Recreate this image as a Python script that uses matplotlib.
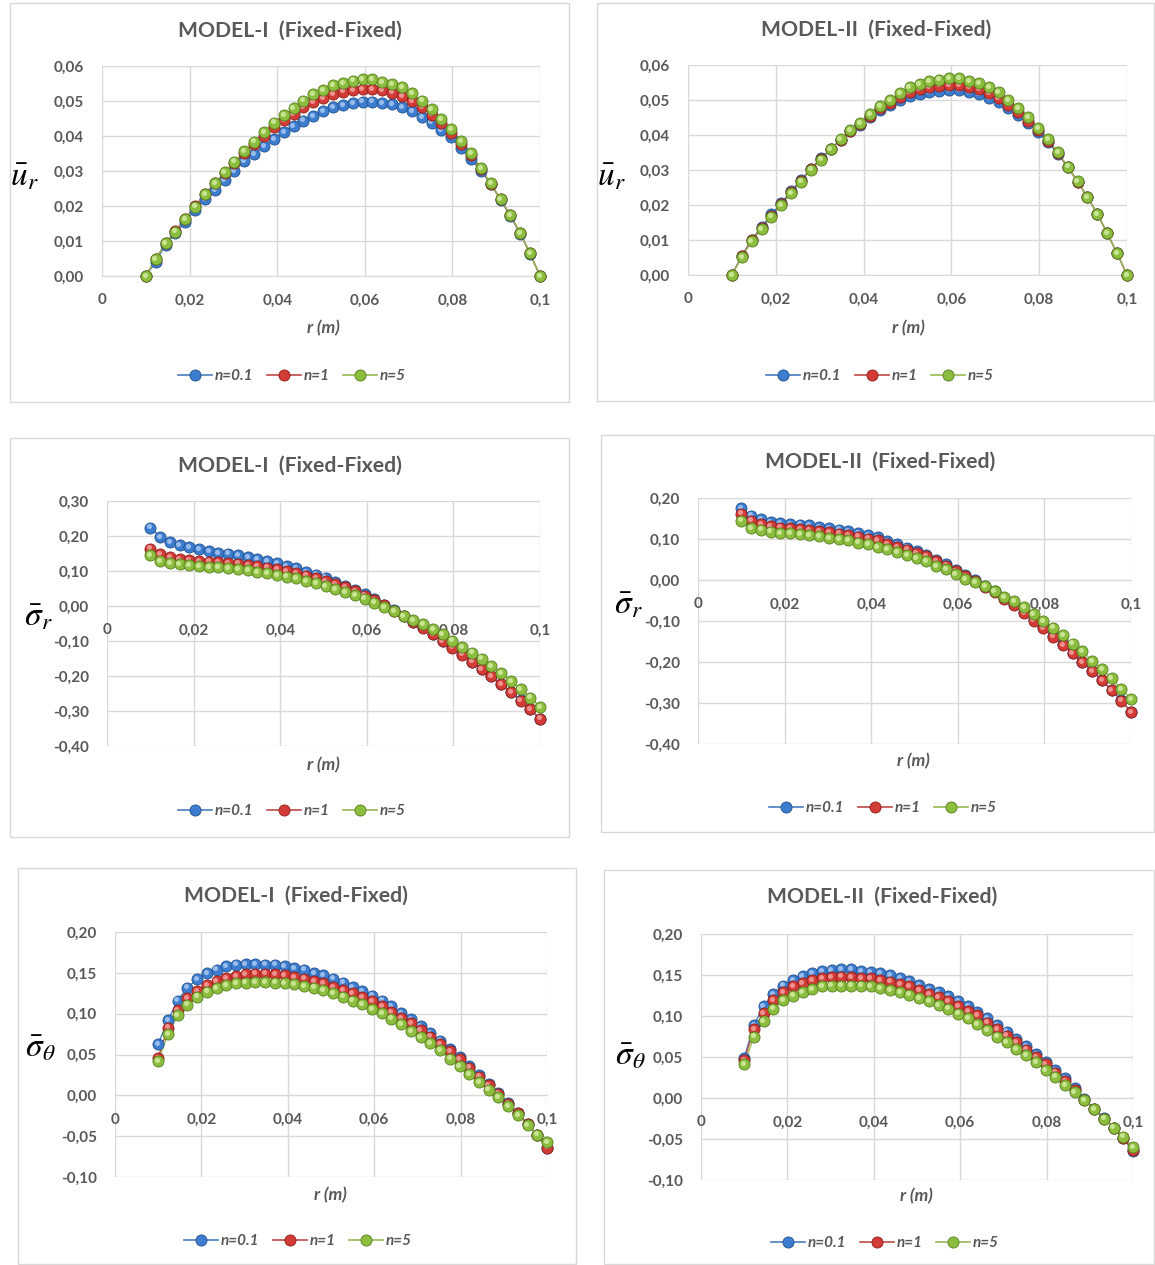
import matplotlib
matplotlib.use('Agg')
import matplotlib.pyplot as plt
from matplotlib.lines import Line2D
from matplotlib.patches import Rectangle
from matplotlib.ticker import FixedLocator, FixedFormatter
import matplotlib.transforms as mtransforms

plt.rcParams['font.family'] = ['Lato', 'DejaVu Sans']
plt.rcParams['mathtext.fontset'] = 'stix'

# ---------------- data ----------------
R = [0.01, 0.01225, 0.0145, 0.01675, 0.019, 0.02125, 0.0235, 0.02575, 0.028, 0.03025,
     0.0325, 0.03475, 0.037, 0.03925, 0.0415, 0.04375, 0.046, 0.04825, 0.0505, 0.05275,
     0.055, 0.05725, 0.0595, 0.06175, 0.064, 0.06625, 0.0685, 0.07075, 0.073, 0.07525,
     0.0775, 0.07975, 0.082, 0.08425, 0.0865, 0.08875, 0.091, 0.09325, 0.0955, 0.09775, 0.1]

SERIES_LABELS = ['n=0.1', 'n=1', 'n=5']
XTICKS = [0, 0.02, 0.04, 0.06, 0.08, 0.1]
XTICK_LABELS = ['0', '0,02', '0,04', '0,06', '0,08', '0,1']

# Model I, u_r
U1_BLUE = [0, 0.0041, 0.0089, 0.0122, 0.0155, 0.0190, 0.0219, 0.0246, 0.0274, 0.0300,
           0.0329, 0.0349, 0.0371, 0.0391, 0.0412, 0.0429, 0.0444, 0.0457, 0.0471, 0.0482,
           0.0488, 0.0495, 0.0498, 0.0498, 0.0493, 0.0490, 0.0482, 0.0470, 0.0455, 0.0438,
           0.0417, 0.0396, 0.0365, 0.0334, 0.0301, 0.0263, 0.0217, 0.0171, 0.0120, 0.0063, 0]
U1_RED = [0, 0.0049, 0.0094, 0.0129, 0.0164, 0.0200, 0.0234, 0.0265, 0.0295, 0.0324,
          0.0352, 0.0377, 0.0401, 0.0426, 0.0446, 0.0463, 0.0482, 0.0497, 0.0509, 0.0520,
          0.0527, 0.0532, 0.0534, 0.0534, 0.0530, 0.0524, 0.0514, 0.0500, 0.0482, 0.0461,
          0.0436, 0.0409, 0.0378, 0.0345, 0.0305, 0.0264, 0.0219, 0.0174, 0.0122, 0.0065, 0]
U1_GREEN = [0, 0.0048, 0.0093, 0.0127, 0.0162, 0.0198, 0.0233, 0.0265, 0.0296, 0.0327,
            0.0357, 0.0384, 0.0410, 0.0438, 0.0460, 0.0479, 0.0501, 0.0519, 0.0531, 0.0546,
            0.0552, 0.0558, 0.0562, 0.0562, 0.0555, 0.0549, 0.0539, 0.0522, 0.0501, 0.0476,
            0.0449, 0.0419, 0.0386, 0.0350, 0.0308, 0.0265, 0.0219, 0.0174, 0.0122, 0.0065, 0]

# Model II, u_r
U2_BLUE = [0, 0.0055, 0.0101, 0.0137, 0.0173, 0.0206, 0.0240, 0.0272, 0.0304, 0.0333,
           0.0360, 0.0386, 0.0410, 0.0430, 0.0451, 0.0471, 0.0485, 0.0500, 0.0512, 0.0518,
           0.0523, 0.0527, 0.0528, 0.0528, 0.0522, 0.0517, 0.0506, 0.0493, 0.0476, 0.0457,
           0.0434, 0.0409, 0.0380, 0.0346, 0.0308, 0.0267, 0.0222, 0.0175, 0.0119, 0.0062, 0]
U2_RED = [0, 0.0053, 0.0099, 0.0134, 0.0170, 0.0203, 0.0237, 0.0270, 0.0303, 0.0332,
          0.0360, 0.0387, 0.0411, 0.0432, 0.0455, 0.0477, 0.0492, 0.0509, 0.0523, 0.0530,
          0.0537, 0.0541, 0.0543, 0.0543, 0.0536, 0.0531, 0.0519, 0.0506, 0.0487, 0.0466,
          0.0441, 0.0413, 0.0383, 0.0348, 0.0309, 0.0267, 0.0222, 0.0175, 0.0119, 0.0062, 0]
U2_GREEN = [0, 0.0051, 0.0096, 0.0131, 0.0167, 0.0199, 0.0234, 0.0267, 0.0301, 0.0330,
            0.0360, 0.0388, 0.0413, 0.0435, 0.0459, 0.0483, 0.0500, 0.0519, 0.0536, 0.0545,
            0.0553, 0.0558, 0.0562, 0.0562, 0.0553, 0.0548, 0.0536, 0.0522, 0.0500, 0.0477,
            0.0450, 0.0419, 0.0388, 0.0350, 0.0310, 0.0268, 0.0223, 0.0175, 0.0119, 0.0062, 0]

# Model I, sigma_r
S1_BLUE = [0.224, 0.198, 0.183, 0.174, 0.169, 0.162, 0.157, 0.152, 0.150, 0.145,
           0.140, 0.135, 0.129, 0.122, 0.114, 0.108, 0.097, 0.090, 0.081, 0.069,
           0.058, 0.047, 0.035, 0.020, 0.004, -0.012, -0.028, -0.045, -0.061, -0.079,
           -0.100, -0.117, -0.136, -0.159, -0.179, -0.200, -0.222, -0.246, -0.269, -0.295, -0.324]
S1_RED = [0.164, 0.148, 0.139, 0.134, 0.131, 0.129, 0.127, 0.125, 0.123, 0.121,
          0.118, 0.114, 0.110, 0.105, 0.100, 0.094, 0.087, 0.080, 0.072, 0.063,
          0.053, 0.042, 0.030, 0.016, 0.002, -0.013, -0.029, -0.046, -0.063, -0.081,
          -0.100, -0.119, -0.139, -0.159, -0.180, -0.201, -0.223, -0.246, -0.270, -0.295, -0.322]
S1_GREEN = [0.145, 0.129, 0.122, 0.120, 0.117, 0.114, 0.112, 0.111, 0.108, 0.105,
            0.102, 0.098, 0.093, 0.089, 0.084, 0.079, 0.071, 0.065, 0.057, 0.048,
            0.040, 0.031, 0.021, 0.010, -0.003, -0.015, -0.028, -0.040, -0.052, -0.066,
            -0.081, -0.099, -0.117, -0.133, -0.150, -0.171, -0.192, -0.215, -0.238, -0.262, -0.288]

# Model II, sigma_r
S2_BLUE = [0.176, 0.157, 0.148, 0.142, 0.139, 0.137, 0.135, 0.133, 0.130, 0.126,
           0.123, 0.119, 0.115, 0.109, 0.105, 0.095, 0.087, 0.079, 0.071, 0.062,
           0.050, 0.038, 0.024, 0.011, 0.000, -0.015, -0.027, -0.043, -0.059, -0.078,
           -0.096, -0.114, -0.136, -0.157, -0.177, -0.200, -0.221, -0.243, -0.268, -0.293, -0.323]
S2_RED = [0.162, 0.145, 0.137, 0.131, 0.128, 0.126, 0.124, 0.122, 0.119, 0.116,
          0.113, 0.110, 0.106, 0.101, 0.097, 0.088, 0.081, 0.074, 0.066, 0.058,
          0.047, 0.035, 0.022, 0.009, -0.002, -0.017, -0.030, -0.046, -0.062, -0.081,
          -0.099, -0.117, -0.138, -0.159, -0.179, -0.201, -0.222, -0.244, -0.269, -0.294, -0.322]
S2_GREEN = [0.145, 0.127, 0.123, 0.118, 0.115, 0.114, 0.111, 0.109, 0.107, 0.103,
            0.099, 0.097, 0.091, 0.087, 0.081, 0.075, 0.069, 0.061, 0.054, 0.046,
            0.034, 0.026, 0.014, 0.003, -0.005, -0.015, -0.027, -0.041, -0.051, -0.067,
            -0.084, -0.100, -0.116, -0.134, -0.155, -0.174, -0.197, -0.217, -0.240, -0.266, -0.290]

# Model I, sigma_theta
T1_BLUE = [0.063, 0.092, 0.116, 0.132, 0.142, 0.150, 0.154, 0.158, 0.160, 0.161,
           0.161, 0.160, 0.160, 0.158, 0.156, 0.154, 0.150, 0.147, 0.143, 0.138,
           0.133, 0.128, 0.122, 0.116, 0.109, 0.101, 0.093, 0.085, 0.076, 0.067,
           0.057, 0.047, 0.036, 0.025, 0.014, 0.003, -0.009, -0.022, -0.035, -0.049, -0.065]
T1_RED = [0.046, 0.083, 0.104, 0.119, 0.128, 0.135, 0.140, 0.144, 0.146, 0.148,
          0.149, 0.149, 0.148, 0.147, 0.145, 0.143, 0.140, 0.137, 0.133, 0.129,
          0.125, 0.120, 0.115, 0.109, 0.102, 0.095, 0.088, 0.080, 0.072, 0.063,
          0.054, 0.044, 0.034, 0.023, 0.013, 0.002, -0.010, -0.022, -0.035, -0.049, -0.064]
T1_GREEN = [0.042, 0.075, 0.098, 0.111, 0.121, 0.127, 0.131, 0.135, 0.137, 0.138,
            0.139, 0.139, 0.138, 0.137, 0.136, 0.134, 0.132, 0.129, 0.125, 0.121,
            0.116, 0.112, 0.106, 0.101, 0.094, 0.087, 0.079, 0.071, 0.064, 0.055,
            0.045, 0.036, 0.026, 0.016, 0.007, -0.002, -0.013, -0.024, -0.036, -0.048, -0.057]

# Model II, sigma_theta
T2_BLUE = [0.049, 0.089, 0.112, 0.127, 0.137, 0.144, 0.149, 0.152, 0.155, 0.156,
           0.157, 0.157, 0.155, 0.154, 0.152, 0.150, 0.146, 0.143, 0.138, 0.133,
           0.129, 0.124, 0.118, 0.112, 0.105, 0.097, 0.089, 0.081, 0.072, 0.063,
           0.054, 0.044, 0.034, 0.024, 0.012, -0.001, -0.013, -0.024, -0.036, -0.049, -0.065]
T2_RED = [0.046, 0.084, 0.104, 0.119, 0.129, 0.136, 0.140, 0.144, 0.146, 0.147,
          0.148, 0.147, 0.146, 0.146, 0.144, 0.142, 0.139, 0.136, 0.132, 0.127,
          0.123, 0.118, 0.112, 0.106, 0.101, 0.092, 0.084, 0.076, 0.068, 0.059,
          0.050, 0.041, 0.031, 0.021, 0.010, -0.002, -0.014, -0.025, -0.036, -0.049, -0.064]
T2_GREEN = [0.041, 0.075, 0.094, 0.109, 0.119, 0.125, 0.129, 0.133, 0.136, 0.137,
            0.137, 0.137, 0.137, 0.136, 0.134, 0.132, 0.129, 0.126, 0.122, 0.118,
            0.113, 0.109, 0.103, 0.097, 0.090, 0.083, 0.075, 0.068, 0.060, 0.052,
            0.044, 0.034, 0.026, 0.016, 0.007, -0.003, -0.014, -0.025, -0.036, -0.047, -0.060]

# ---------------- styling ----------------
W, H = 1155, 1265
GRAY = '#595959'
GRID = '#d9d9d9'
STYLES = [  # line, base, dark edge, highlight
    ('#4a7ebb', '#3c7dd0', '#24528f', '#a9c8f0'),
    ('#be4b48', '#d33b36', '#8e1f1c', '#f2a3a0'),
    ('#98b954', '#8cbd3f', '#56801f', '#d6eca6'),
]

fig = plt.figure(figsize=(W / 100, H / 100), dpi=100)


def fig_rect(x0, y0, x1, y1):
    return [x0 / W, 1 - y1 / H, (x1 - x0) / W, (y1 - y0) / H]


def fmt_y(v):
    s = f"{v:.2f}".replace('.', ',')
    if s.startswith('-0,00'):
        s = '0,00'
    return s


def panel(box, plot, ylim, ystep, title, title_xy, ylab, ylab_xy, rlab_xy, leg_xy, series):
    bx = fig_rect(*box)
    fig.patches.append(Rectangle((bx[0], bx[1]), bx[2], bx[3], transform=fig.transFigure,
                                 fill=False, ec=GRID, lw=1.0, zorder=0))
    ax = fig.add_axes(fig_rect(*plot))
    ax.set_xlim(0, 0.1)
    ax.set_ylim(*ylim)
    nstep = int(round((ylim[1] - ylim[0]) / ystep))
    yt = [ylim[0] + k * ystep for k in range(nstep + 1)]
    ax.yaxis.set_major_locator(FixedLocator(yt))
    ax.yaxis.set_major_formatter(FixedFormatter([fmt_y(v) for v in yt]))
    ax.xaxis.set_major_locator(FixedLocator(XTICKS))
    ax.xaxis.set_major_formatter(FixedFormatter(XTICK_LABELS))
    for s in ['top', 'right', 'left']:
        ax.spines[s].set_visible(False)
    ax.spines['bottom'].set_position(('data', 0))
    ax.spines['bottom'].set_color(GRID)
    ax.grid(True, color=GRID, lw=1.0)
    ax.set_axisbelow(True)
    ax.tick_params(axis='x', length=0, pad=12.5, labelsize=11, labelcolor=GRAY)
    ax.tick_params(axis='y', length=0, pad=13, labelsize=11, labelcolor=GRAY)
    for lab in ax.get_xticklabels() + ax.get_yticklabels():
        lab.set_fontweight('bold')

    hl = mtransforms.offset_copy(ax.transData, fig=fig, x=-1.2, y=1.2, units='dots')
    handles = []
    for k, (vals, (lc, base, dark, light)) in enumerate(zip(series, STYLES)):
        ax.plot(R, vals, color=lc, lw=1.0, zorder=2, clip_on=False)
        ax.plot(R, vals, ls='none', marker='o', ms=8, mfc=base, mec=dark, mew=0.6,
                zorder=3 + k, clip_on=False)
        ax.plot(R, vals, ls='none', marker='o', ms=3.6, mfc=light, mec='none', alpha=0.85,
                transform=hl, zorder=3 + k, clip_on=False)
        handles.append(Line2D([], [], color=lc, lw=1.2, marker='o', ms=8, mfc=base,
                              mec=dark, mew=0.6))

    fig.text(title_xy[0] / W, 1 - title_xy[1] / H, title, ha='center', va='center',
             fontsize=15.2, fontweight='bold', color=GRAY)
    fig.text(ylab_xy[0] / W, 1 - ylab_xy[1] / H, ylab, ha='center', va='center',
             fontsize=24, color='black')
    fig.text(rlab_xy[0] / W, 1 - rlab_xy[1] / H, 'r (m)', ha='center', va='center',
             fontsize=12.5, fontweight='bold', style='italic', color=GRAY)
    leg = ax.legend(handles, SERIES_LABELS, loc='center',
                    bbox_to_anchor=(leg_xy[0] / W, 1 - leg_xy[1] / H),
                    bbox_transform=fig.transFigure, ncol=3, frameon=False,
                    handlelength=2.2, columnspacing=0.9, handletextpad=0.2,
                    prop=dict(style='italic', weight='bold', size=11))
    for t in leg.get_texts():
        t.set_color(GRAY)
    return ax


panel((10, 3, 569, 402), (102, 66, 540, 276), (0, 0.06), 0.01,
      'MODEL-I  (Fixed-Fixed)', (290, 31), r'$\bar{u}_r$', (24, 177), (323, 328), (292, 376),
      [U1_BLUE, U1_RED, U1_GREEN])
panel((597, 3, 1154, 401), (688, 65, 1127, 275), (0, 0.06), 0.01,
      'MODEL-II  (Fixed-Fixed)', (876, 30), r'$\bar{u}_r$', (611, 177), (908, 328), (880, 376),
      [U2_BLUE, U2_RED, U2_GREEN])
panel((10, 438, 569, 837), (107, 501, 540, 746), (-0.4, 0.3), 0.1,
      'MODEL-I  (Fixed-Fixed)', (290, 466), r'$\bar{\sigma}_r$', (38, 617), (323, 765), (292, 811),
      [S1_BLUE, S1_RED, S1_GREEN])
panel((601, 435, 1154, 832), (698, 498, 1131, 744), (-0.4, 0.2), 0.1,
      'MODEL-II  (Fixed-Fixed)', (880, 462), r'$\bar{\sigma}_r$', (628, 605), (913, 761), (883, 808),
      [S2_BLUE, S2_RED, S2_GREEN])
panel((18, 868, 576, 1264), (115, 932, 547, 1177), (-0.1, 0.2), 0.05,
      'MODEL-I  (Fixed-Fixed)', (296, 896), r'$\bar{\sigma}_\theta$', (40, 1048), (330, 1195), (298, 1241),
      [T1_BLUE, T1_RED, T1_GREEN])
panel((604, 870, 1154, 1264), (701, 934, 1133, 1180), (-0.1, 0.2), 0.05,
      'MODEL-II  (Fixed-Fixed)', (882, 897), r'$\bar{\sigma}_\theta$', (630, 1056), (916, 1196), (885, 1243),
      [T2_BLUE, T2_RED, T2_GREEN])

fig.savefig('out.png', dpi=100, facecolor='white')
